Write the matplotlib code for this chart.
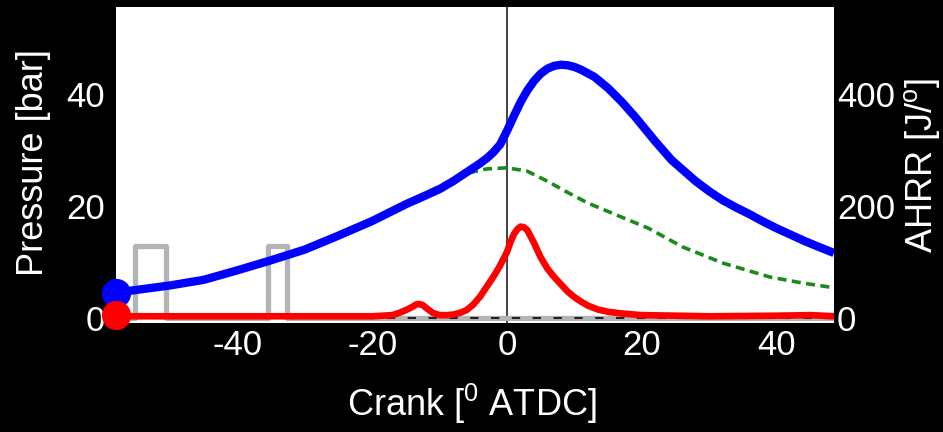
import matplotlib
matplotlib.use("Agg")
import matplotlib.pyplot as plt

plt.rcParams['font.family'] = ['Liberation Sans', 'DejaVu Sans']
plt.rcParams['mathtext.fontset'] = 'custom'
plt.rcParams['mathtext.rm'] = 'Liberation Sans'
plt.rcParams['mathtext.it'] = 'Liberation Sans'
plt.rcParams['mathtext.default'] = 'regular'
plt.rcParams['axes.unicode_minus'] = False

# Cylinder pressure [bar]
p_crank = [-58, -55, -50, -45, -40, -35, -30, -25, -20, -15, -12, -10, -8, -6, -4, -3, -2, -1, 0,
           1, 2, 3, 4, 5, 6, 7, 8, 9, 10, 11, 13, 15, 17, 19, 22, 24.4, 26, 28, 30, 32, 34, 36,
           38, 40, 42, 44, 46, 48.5]
p_bar = [4.5, 5.0, 5.8, 6.8, 8.5, 10.3, 12.2, 14.7, 17.3, 20.3, 21.9, 23.0, 24.4, 26.0, 27.6,
         28.5, 29.6, 31.0, 33.4,
         36.0, 38.5, 40.6, 42.3, 43.6, 44.5, 45.0, 45.2, 45.1, 44.8, 44.3, 43.0, 41.0, 38.6,
         35.9, 31.5, 28.2, 26.5, 24.4, 22.6, 21.0, 19.7, 18.5, 17.2, 16.0, 14.9, 13.8, 12.8, 11.6]

# Motored pressure [bar]
m_crank = [-58, -50, -40, -30, -25, -20, -15, -10, -6, -3, 0, 3, 6, 9, 12, 16, 21, 26, 32,
           39, 44, 48.5]
m_bar = [4.5, 5.8, 8.5, 12.2, 14.7, 17.5, 20.6, 23.5, 25.8, 26.6, 26.8, 26.2, 24.4, 22.4, 20.5,
         18.5, 16.0, 12.7, 9.8, 7.3, 6.2, 5.4]

# Apparent heat release rate [J/deg]
h_crank = [-58, -50, -40, -30, -20, -17, -16, -15, -14, -13.5, -13, -12.5, -12, -11, -10, -9,
           -8, -7, -6, -5, -4, -3, -2, -1, 0, 0.5, 1, 1.5, 2, 2.5, 3, 4, 5, 6, 7, 8, 9, 10, 11,
           12, 13.5, 15, 17, 20, 30, 40, 45, 48.5]
h_jdeg = [3, 3, 3, 3, 3, 5, 9, 14, 20, 24, 25, 23, 18, 9, 5, 5,
          6, 9, 14, 24, 38, 56, 74, 94, 118, 135, 149, 158, 163, 162, 157, 134, 108, 88, 73,
          60, 47, 37, 29, 22, 15, 11, 8, 5, 3, 4, 5, 3]

# Injector signal (scaled to pressure axis)
inj_crank = [-58, -55.2, -55.2, -50.6, -50.6, -35.5, -35.5, -32.6, -32.6, 48.5]
inj_level = [0, 0, 12.9, 12.9, 0, 0, 12.9, 12.9, 0, 0]

x_ticks = [-40, -20, 0, 20, 40]
p_ticks = [0, 20, 40]
h_ticks = [0, 200, 400]

W, H = 943, 432
fig = plt.figure(figsize=(W / 100, H / 100), dpi=100, facecolor='black')
x0, x1, y0, y1 = 116, 834, 7, 323
ax = fig.add_axes([x0 / W, 1 - y1 / H, (x1 - x0) / W, (y1 - y0) / H])
ax.set_facecolor('white')
ax2 = ax.twinx()

xl = (-58, 48.5)
ax.set_xlim(*xl)
ax.set_ylim(-0.9, 55.5)
ax2.set_ylim(-9, 555)

ax.axvline(0, color='#333333', lw=1.3, zorder=1)
ax.plot(inj_crank, inj_level, color='#b4b4b4', lw=3.8, solid_joinstyle='round', zorder=2)
ax.axhline(0, color='#222222', lw=1.5, ls=(0, (4, 6)), zorder=2.5)
ax.plot(m_crank, m_bar, color='#1a8a1a', lw=2.6, ls=(0, (2.5, 1.5)), zorder=3)
ax.plot(p_crank, p_bar, color='#0000ff', lw=6, solid_capstyle='butt', solid_joinstyle='round', zorder=4)
ax2.plot(h_crank, h_jdeg, color='#ff0000', lw=4.8, solid_joinstyle='round', zorder=4)

ax.plot([xl[0]], [4.5], 'o', color='#0000ff', ms=20, clip_on=False, zorder=10)
ax2.plot([xl[0]], [5], 'o', color='#ff0000', ms=20, clip_on=False, zorder=10)

fs = 25
lfs = 26
ax.set_xticks(x_ticks)
ax.set_yticks(p_ticks)
ax2.set_yticks(h_ticks)
ax.tick_params(axis='x', length=0, pad=4, labelsize=fs, labelcolor='white')
ax.tick_params(axis='y', length=0, pad=8, labelsize=fs, labelcolor='white')
ax2.tick_params(axis='y', length=0, pad=2, labelsize=fs, labelcolor='white')
for a in (ax, ax2):
    for s in a.spines.values():
        s.set_visible(False)

fig.text(472 / W, 1 - 404 / H, r'Crank [$^{0}$ ATDC]', color='white', fontsize=lfs,
         ha='center', va='center')
fig.text(34 / W, 1 - 163 / H, 'Pressure [bar]', color='white', fontsize=lfs,
         ha='center', va='center', rotation=90)
fig.text(942 / W, 1 - 165 / H, r'AHRR [J/$^{o}$]', color='white', fontsize=lfs,
         ha='right', va='center', rotation=90)

fig.savefig('out.png', dpi=100, facecolor='black')
